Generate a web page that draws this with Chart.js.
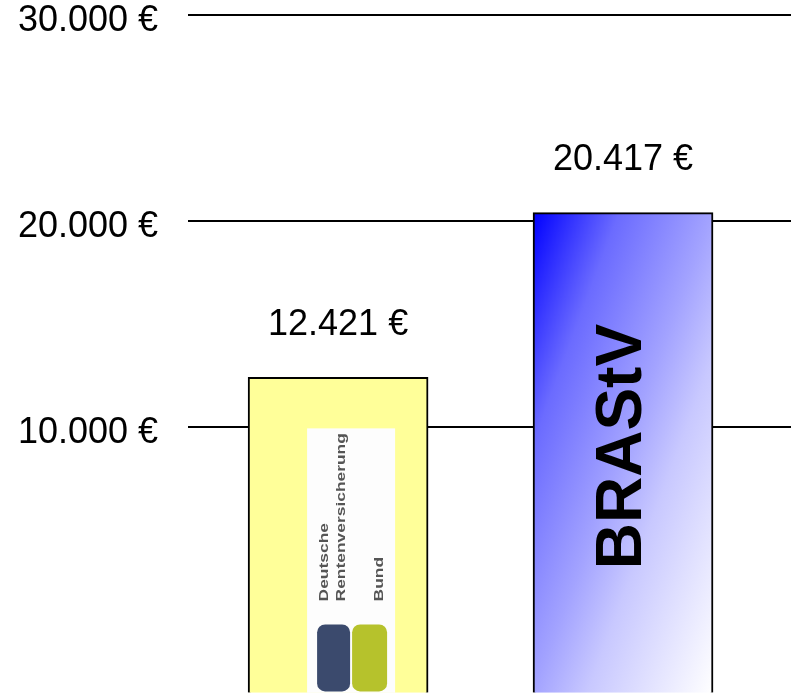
<!DOCTYPE html>
<html>
<head>
<meta charset="utf-8">
<script src="https://cdn.jsdelivr.net/npm/chart.js@4"></script>
<style>
    html, body { margin: 0; padding: 0; background: #fff; }
    #wrap { width: 791px; height: 693px; position: relative; }
</style>
</head>
<body>
<div id="wrap"><canvas id="rentChart"></canvas></div>
<script>
const categories = ['Deutsche Rentenversicherung Bund', 'BRAStV'];
const values = [12421, 20417];
const positions = [0, 1];
const tickValues = [10000, 20000, 30000];
const axisMin = -2881;
const axisMax = 30000;

const FONT = '"Liberation Sans", Arial, sans-serif';

function fmtEUR(v) {
    return String(v).replace(/\B(?=(\d{3})+(?!\d))/g, '.') + ' €';
}

function blueGradient(c) {
    const chart = c.chart;
    const area = chart.chartArea;
    if (!area) return '#8080ff';
    const xs = chart.scales.x, ys = chart.scales.y;
    const cx = xs.getPixelForValue(positions[c.dataIndex]);
    const x0 = cx - 90, y0 = ys.getPixelForValue(values[c.dataIndex]);
    const x1 = cx + 90, y1 = area.bottom;
    // iso-lines run along the other diagonal
    const dx = y1 - y0, dy = x1 - x0;
    const len = Math.hypot(dx, dy);
    const proj = ((x1 - x0) * dx + (y1 - y0) * dy) / len;
    const g = chart.ctx.createLinearGradient(x0, y0, x0 + proj * dx / len, y0 + proj * dy / len);
    g.addColorStop(0, '#0000ff');
    g.addColorStop(0.24, '#6b6bff');
    g.addColorStop(0.5, '#a3a3ff');
    g.addColorStop(0.65, '#c8c8ff');
    g.addColorStop(1, '#ffffff');
    return g;
}

const barDecor = {
    id: 'barDecor',
    afterDatasetsDraw(chart) {
        const ctx = chart.ctx;
        const els = chart.getDatasetMeta(0).data;
        const bottom = chart.chartArea.bottom;
        ctx.save();

        // value labels above the bars
        ctx.fillStyle = '#000';
        ctx.font = '36px ' + FONT;
        ctx.textAlign = 'center';
        ctx.textBaseline = 'middle';
        els.forEach((el, i) => ctx.fillText(fmtEUR(values[i]), el.x, el.y - 52));

        // logo in the first bar
        const a = els[0];
        ctx.fillStyle = '#fdfdfd';
        ctx.fillRect(a.x - 31, a.y + 51, 88, bottom - a.y - 51);
        ctx.fillStyle = '#3b4a6d';
        ctx.beginPath();
        ctx.roundRect(a.x - 21, a.y + 247, 33, 67, 8);
        ctx.fill();
        ctx.fillStyle = '#b6c22c';
        ctx.beginPath();
        ctx.roundRect(a.x + 14, a.y + 247, 35, 67, 8);
        ctx.fill();

        ctx.fillStyle = '#555';
        ctx.textAlign = 'left';
        const logoText = [['Deutsche', -13], ['Rentenversicherung', 4], ['Bund', 42]];
        logoText.forEach(([t, dx]) => {
            ctx.save();
            ctx.translate(a.x + dx, a.y + 224);
            ctx.rotate(-Math.PI / 2);
            ctx.scale(1.45, 1);
            ctx.font = 'bold 12px ' + FONT;
            ctx.fillText(t, 0, 0);
            ctx.restore();
        });

        // rotated name in the second bar
        const b = els[1];
        ctx.save();
        ctx.translate(b.x, b.y + 234);
        ctx.rotate(-Math.PI / 2);
        ctx.fillStyle = '#000';
        ctx.textAlign = 'center';
        ctx.font = 'bold 64px ' + FONT;
        ctx.fillText(categories[1], 0, 0);
        ctx.restore();

        ctx.restore();
    }
};

new Chart(document.getElementById('rentChart'), {
    type: 'bar',
    data: {
        datasets: [{
            label: 'Rente',
            data: positions.map((p, i) => ({ x: p, y: values[i] })),
            backgroundColor: (c) => c.dataIndex === 0 ? '#ffff99' : blueGradient(c),
            borderColor: '#000',
            borderWidth: 2,
            barThickness: 180,
            base: axisMin
        }]
    },
    options: {
        responsive: true,
        maintainAspectRatio: false,
        animation: false,
        layout: { padding: { left: 18, top: 15, right: 0, bottom: 0 } },
        plugins: {
            legend: { display: false },
            tooltip: { enabled: false }
        },
        scales: {
            x: { type: 'linear', min: -0.5263, max: 1.5895, offset: false, display: false },
            y: {
                min: axisMin,
                max: axisMax,
                afterBuildTicks: (s) => { s.ticks = tickValues.map(v => ({ value: v })); },
                ticks: {
                    callback: (v) => fmtEUR(v),
                    color: '#000',
                    font: { family: FONT, size: 36, lineHeight: 0.01 },
                    padding: 0,
                    labelOffset: 6
                },
                grid: { color: '#000', lineWidth: 2, drawTicks: true, tickLength: 30, tickColor: 'rgba(0,0,0,0)' },
                border: { display: false }
            }
        }
    },
    plugins: [barDecor]
});
</script>
</body>
</html>
